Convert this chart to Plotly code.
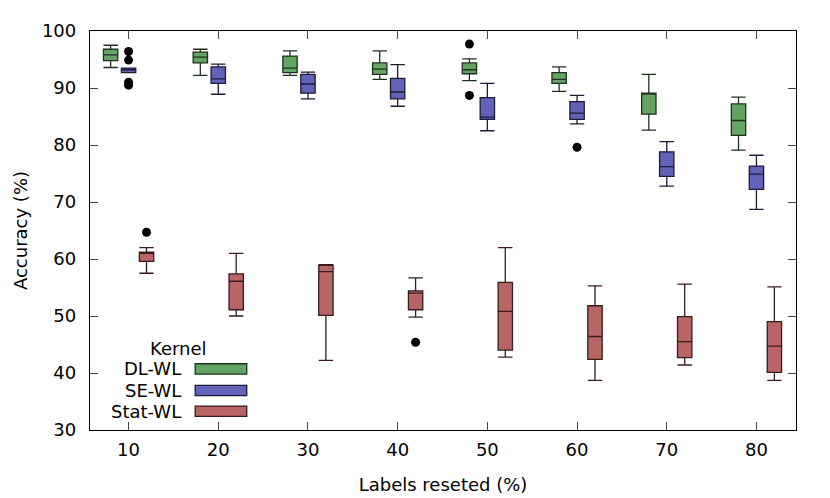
import plotly.graph_objects as go

groups = [10, 20, 30, 40, 50, 60, 70, 80]
kernels = ["DL-WL", "SE-WL", "Stat-WL"]

dl_low = [93.6, 92.2, 92.2, 91.5, 91.3, 89.4, 82.6, 79.1]
dl_q1 = [94.8, 94.4, 92.7, 92.4, 92.5, 90.8, 85.4, 81.7]
dl_med = [95.8, 95.4, 93.5, 93.3, 93.2, 91.5, 89.1, 84.3]
dl_q3 = [96.8, 96.3, 95.6, 94.4, 94.4, 92.7, 89.1, 87.2]
dl_high = [97.5, 96.8, 96.5, 96.5, 95.1, 93.7, 92.4, 88.4]

se_low = [92.7, 88.9, 88.1, 86.8, 82.5, 83.7, 72.8, 68.7]
se_q1 = [92.7, 90.8, 89.1, 88.1, 84.5, 84.5, 74.5, 72.2]
se_med = [93.2, 91.6, 90.7, 89.3, 84.9, 85.6, 76.2, 74.9]
se_q3 = [93.5, 93.7, 92.4, 91.7, 88.3, 87.6, 78.8, 76.3]
se_high = [93.5, 94.2, 92.8, 94.1, 90.8, 88.7, 80.6, 78.2]

st_low = [57.5, 50.0, 42.2, 49.8, 42.8, 38.7, 41.4, 38.7]
st_q1 = [59.6, 51.1, 50.1, 51.1, 44.0, 42.4, 42.7, 40.1]
st_med = [61.0, 56.1, 57.8, 54.0, 50.8, 46.4, 45.5, 44.7]
st_q3 = [61.2, 57.4, 58.9, 54.4, 55.9, 51.8, 49.9, 49.0]
st_high = [62.0, 61.0, 59.0, 56.7, 62.0, 55.3, 55.6, 55.1]

# outliers: (group, value)
dl_out_x = [50, 50]
dl_out_y = [97.7, 88.7]
se_out_x = [10, 10, 10, 10, 60]
se_out_y = [96.4, 94.9, 91.0, 90.5, 79.6]
st_out_x = [10, 40]
st_out_y = [64.7, 45.4]

colors = ["#63a463", "#6262b8", "#b96565"]
edges = ["#1e321e", "#1c1c38", "#381c1c"]
offsets = [-2, 0, 2]

stats = [
    (dl_low, dl_q1, dl_med, dl_q3, dl_high, dl_out_x, dl_out_y),
    (se_low, se_q1, se_med, se_q3, se_high, se_out_x, se_out_y),
    (st_low, st_q1, st_med, st_q3, st_high, st_out_x, st_out_y),
]

font = "DejaVu Sans"
fs = 18
fig = go.Figure()

for k, (lo, q1, med, q3, hi, ox, oy) in enumerate(stats):
    fig.add_trace(go.Box(
        x=[g + offsets[k] for g in groups],
        lowerfence=lo, q1=q1, median=med, q3=q3, upperfence=hi,
        width=1.6, whiskerwidth=1,
        fillcolor=colors[k],
        line=dict(color=edges[k], width=1.3),
        boxpoints=False,
        name=kernels[k], showlegend=False,
    ))
    fig.add_trace(go.Scatter(
        x=[g + offsets[k] for g in ox], y=oy,
        mode="markers",
        marker=dict(color="black", size=9),
        showlegend=False, hoverinfo="skip",
    ))

# legend drawn by hand: label on the left, swatch on the right
fig.add_annotation(x=0.126, y=0.205, xref="paper", yref="paper", text="Kernel",
                   showarrow=False, xanchor="center", yanchor="middle",
                   font=dict(family=font, size=fs, color="black"))
leg_y = [0.153, 0.099, 0.047]
for k in range(3):
    fig.add_annotation(x=0.132, y=leg_y[k], xref="paper", yref="paper",
                       text=kernels[k], showarrow=False,
                       xanchor="right", yanchor="middle",
                       font=dict(family=font, size=fs, color="black"))
    fig.add_shape(type="rect", xref="paper", yref="paper",
                  x0=0.149, x1=0.222, y0=leg_y[k] - 0.013, y1=leg_y[k] + 0.013,
                  fillcolor=colors[k], line=dict(color=edges[k], width=1.3))

axis_common = dict(
    showline=True, linecolor="black", linewidth=1.3, mirror="ticks",
    ticks="inside", ticklen=8, tickcolor="#444444", tickwidth=1.3,
    showgrid=False, zeroline=False,
    tickfont=dict(family=font, size=fs, color="black"),
    title_font=dict(family=font, size=fs, color="black"),
)

# the page body adds an 8px margin, so the figure sits 8px right and down
fig.update_layout(
    width=830, height=498,
    margin=dict(l=80, r=42, t=16, b=76),
    paper_bgcolor="white", plot_bgcolor="white",
    boxmode="overlay",
    xaxis=dict(range=[5.7, 84.41], tickvals=groups, title_text="Labels reseted (%)",
               ticklabelstandoff=3, title_standoff=19, **axis_common),
    yaxis=dict(range=[30, 100], dtick=10, title_text="Accuracy (%)",
               ticklabelstandoff=9, title_standoff=9, **axis_common),
)

fig.write_html("out.html")
